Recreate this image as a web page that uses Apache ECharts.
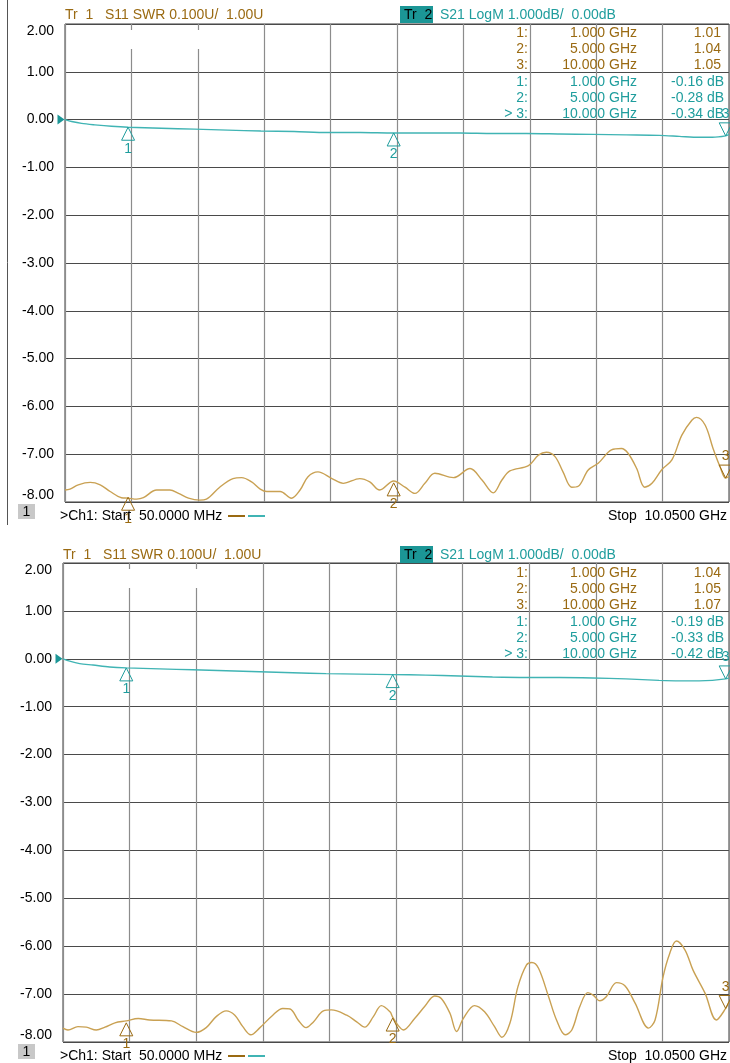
<!DOCTYPE html>
<html>
<head>
<meta charset="utf-8">
<script src="https://cdn.jsdelivr.net/npm/echarts@6/dist/echarts.min.js"></script>
<style>
html,body{margin:0;padding:0;background:#fff;}
#c{width:730px;height:1063px;}
</style>
</head>
<body>
<div id="c"></div>
<script>
// ---------- DATA ----------
// Top measurement: S11 SWR (U) and S21 LogM (dB) vs frequency (GHz)
const swrTopF = [0.05,0.125,0.25,0.43,0.58,0.73,0.90,1.00,1.13,1.23,1.43,1.63,1.76,1.91,2.08,2.18,2.38,2.58,2.71,2.86,2.99,3.09,3.29,3.46,3.59,3.71,3.86,4.07,4.24,4.49,4.64,4.79,5.00,5.17,5.32,5.47,5.62,5.90,6.15,6.33,6.50,6.63,6.75,7.03,7.18,7.30,7.43,7.55,7.68,7.78,7.93,8.08,8.28,8.43,8.53,8.66,8.78,8.89,9.04,9.19,9.34,9.49,9.56,9.69,9.81,9.92,10.00,10.05];
const swrTopV = [1.025,1.027,1.036,1.041,1.036,1.022,1.009,1.008,1.006,1.009,1.025,1.025,1.018,1.008,1.004,1.006,1.031,1.049,1.051,1.042,1.027,1.022,1.022,1.008,1.025,1.053,1.063,1.049,1.039,1.049,1.042,1.025,1.044,1.031,1.018,1.039,1.060,1.051,1.070,1.046,1.019,1.046,1.065,1.076,1.098,1.104,1.095,1.063,1.031,1.033,1.067,1.081,1.109,1.112,1.102,1.070,1.031,1.039,1.068,1.088,1.140,1.171,1.177,1.161,1.112,1.072,1.050,1.054];
const s21F = [0.05,0.15,0.3,0.5,0.75,1.0,1.5,2.0,2.5,3.0,3.5,4.0,4.5,5.0,5.5,6.0,6.5,7.0,7.5,8.0,8.5,9.0,9.3,9.6,9.8,10.0,10.05];
const s21TopV = [0.00,-0.04,-0.08,-0.11,-0.14,-0.16,-0.18,-0.20,-0.22,-0.24,-0.25,-0.27,-0.27,-0.28,-0.28,-0.28,-0.29,-0.29,-0.30,-0.31,-0.32,-0.33,-0.35,-0.37,-0.37,-0.34,-0.31];

// Bottom measurement
const swrBotF = [0.05,0.125,0.275,0.40,0.55,0.68,0.83,1.00,1.18,1.35,1.68,1.85,2.05,2.20,2.35,2.50,2.63,2.75,2.87,3.00,3.20,3.35,3.46,3.58,3.70,3.81,3.96,4.08,4.31,4.46,4.58,4.71,4.83,4.96,5.00,5.08,5.16,5.33,5.48,5.63,5.73,5.86,5.96,6.06,6.23,6.38,6.53,6.64,6.76,6.88,7.01,7.09,7.19,7.34,7.46,7.59,7.69,7.81,7.93,8.01,8.11,8.21,8.36,8.49,8.64,8.84,8.94,9.06,9.16,9.26,9.39,9.51,9.69,9.86,10.00,10.05];
const swrBotV = [1.029,1.025,1.032,1.031,1.025,1.031,1.040,1.044,1.049,1.046,1.044,1.032,1.020,1.030,1.053,1.065,1.056,1.032,1.015,1.029,1.056,1.070,1.069,1.046,1.030,1.042,1.065,1.067,1.056,1.042,1.031,1.053,1.076,1.063,1.052,1.035,1.025,1.049,1.074,1.096,1.091,1.060,1.022,1.049,1.076,1.063,1.032,1.010,1.039,1.115,1.161,1.166,1.154,1.095,1.046,1.015,1.025,1.074,1.103,1.098,1.086,1.095,1.124,1.117,1.081,1.029,1.046,1.136,1.185,1.211,1.192,1.150,1.102,1.046,1.070,1.084];
const s21BotV = [0.00,-0.05,-0.10,-0.13,-0.17,-0.19,-0.21,-0.23,-0.25,-0.27,-0.29,-0.31,-0.32,-0.33,-0.34,-0.36,-0.38,-0.39,-0.39,-0.40,-0.42,-0.45,-0.46,-0.46,-0.45,-0.42,-0.40];

// Marker readouts
const markerFreqs = [1.0, 5.0, 10.0];
const swrMarkTop = [1.01, 1.04, 1.05];
const s21MarkTop = [-0.16, -0.28, -0.34];
const swrMarkBot = [1.04, 1.05, 1.07];
const s21MarkBot = [-0.19, -0.33, -0.42];

// Axis settings
const yMin = -8, yMax = 2, yStep = 1;       // S21 dB scale (labels)
const swrMin = 1.0, swrMax = 2.0;           // SWR scale 0.1U/div
const startGHz = 0.05, stopGHz = 10.05;
const tr1Title = 'Tr  1   S11 SWR 0.100U/  1.00U';
const tr2Title = 'S21 LogM 1.000dB/  0.00dB';
const startText = '>Ch1: Start  50.0000 MHz';
const stopText = 'Stop  10.0500 GHz';

// ---------- STYLE ----------
const FONT = '"Liberation Sans", Arial, sans-serif';
const BROWN_T = '#9a6a12';
const BROWN_L = '#c9a153';
const TEAL_T = '#1f9d9d';
const TEAL_L = '#40b4b4';
const TEAL_BOX = '#1b9696';

const zip = (a, b) => a.map((v, i) => [v, b[i]]);

const panels = [
  {left: 65, top: 24, width: 664, height: 478, off: 0, swrF: swrTopF, swrV: swrTopV, s21V: s21TopV, swrM: swrMarkTop, s21M: s21MarkTop, border: true},
  {left: 63, top: 563, width: 666, height: 479, off: 540, swrF: swrBotF, swrV: swrBotV, s21V: s21BotV, swrM: swrMarkBot, s21M: s21MarkBot, border: false}
];

const grid = [], xAxis = [], yAxis = [], series = [], graphic = [];

const upTri = 'path://M5,0 L10,10 L0,10 Z';
const downTri = 'path://M0,0 L10,0 L5,10 Z';
const refArrow = 'path://M0,0 L10,5 L0,10 Z';

function markers(vals, txtColor) {
  return vals.map((v, i) => {
    const active = i === vals.length - 1;
    return {
      coord: [markerFreqs[i], v],
      symbol: active ? downTri : upTri,
      symbolSize: [13, 13],
      symbolOffset: [0, active ? -6.5 : 6.5],
      itemStyle: {color: 'rgba(0,0,0,0)', borderColor: txtColor, borderWidth: 1},
      label: {show: true, formatter: String(i + 1), position: active ? 'top' : 'bottom', distance: 1,
              color: txtColor, fontSize: 14, fontFamily: FONT}
    };
  });
}

panels.forEach((p, k) => {
  grid.push({left: p.left, top: p.top, width: p.width, height: p.height, show: true,
             borderColor: '#3c3c3c', borderWidth: 1, backgroundColor: '#fff'});
  // division axis (grid lines every 1 GHz from start)
  xAxis.push({gridIndex: k, type: 'value', min: 0, max: 10, interval: 1,
              axisLabel: {show: false}, axisTick: {show: false}, axisLine: {show: false},
              splitLine: {show: true, lineStyle: {color: '#8c8c8c', width: 1.2}}});
  // frequency axis
  xAxis.push({gridIndex: k, type: 'value', min: startGHz, max: stopGHz, show: false});
  yAxis.push({gridIndex: k, type: 'value', min: yMin, max: yMax, interval: yStep,
              axisLine: {show: false}, axisTick: {show: false},
              axisLabel: {formatter: v => v.toFixed(2), color: '#000', fontSize: 14, fontFamily: FONT, margin: 11,
                          showMinLabel: true, showMaxLabel: true,
                          verticalAlignMaxLabel: 'top', verticalAlignMinLabel: 'bottom'},
              splitLine: {show: true, lineStyle: {color: '#4a4a4a', width: 1}}});
  yAxis.push({gridIndex: k, type: 'value', min: swrMin, max: swrMax, show: false});

  series.push({
    type: 'line', xAxisIndex: 2 * k + 1, yAxisIndex: 2 * k + 1, data: zip(p.swrF, p.swrV),
    symbol: 'none', smooth: 0.35, lineStyle: {color: BROWN_L, width: 1.4}, z: 3,
    markPoint: {data: markers(p.swrM, BROWN_T), animation: false}
  });
  const s21Marks = markers(p.s21M, TEAL_T);
  s21Marks.push({coord: [startGHz, 0], symbol: refArrow, symbolSize: [7, 10], symbolOffset: [-4, 0],
                 itemStyle: {color: TEAL_BOX}, label: {show: false}});
  series.push({
    type: 'line', xAxisIndex: 2 * k + 1, yAxisIndex: 2 * k, data: zip(s21F, p.s21V),
    symbol: 'none', smooth: 0.3, lineStyle: {color: TEAL_L, width: 1.4}, z: 4,
    markPoint: {data: s21Marks, animation: false}
  });

  const o = p.off;
  const txt = (text, x, y, fill, align) => ({type: 'text', x: x, y: y, z: 100,
    style: {text: text, fill: fill, font: '14px ' + FONT, align: align || 'left', verticalAlign: 'middle'}});

  // header
  graphic.push(txt(tr1Title, p.left, 15 + o, BROWN_T));
  graphic.push({type: 'rect', z: 99, shape: {x: 400, y: 6 + o, width: 33, height: 17}, style: {fill: TEAL_BOX}});
  graphic.push(txt('Tr  2', 404, 15 + o, '#000'));
  graphic.push(txt(tr2Title, 440, 15 + o, TEAL_T));

  // marker table
  const rowsY = [33, 49, 65, 82, 98, 114];
  p.swrM.forEach((v, i) => {
    graphic.push(txt((i + 1) + ':', 528, rowsY[i] + o, BROWN_T, 'right'));
    graphic.push(txt(markerFreqs[i].toFixed(3) + ' GHz', 637, rowsY[i] + o, BROWN_T, 'right'));
    graphic.push(txt(v.toFixed(2), 721, rowsY[i] + o, BROWN_T, 'right'));
  });
  p.s21M.forEach((v, i) => {
    const pre = i === p.s21M.length - 1 ? '> ' : '';
    graphic.push(txt(pre + (i + 1) + ':', 528, rowsY[3 + i] + o, TEAL_T, 'right'));
    graphic.push(txt(markerFreqs[i].toFixed(3) + ' GHz', 637, rowsY[3 + i] + o, TEAL_T, 'right'));
    graphic.push(txt(v.toFixed(2) + ' dB', 724, rowsY[3 + i] + o, TEAL_T, 'right'));
  });

  // gaps in the first two vertical grid lines near the top
  graphic.push({type: 'rect', z: 50, shape: {x: p.left + 60, y: p.top + 6, width: 78, height: 19}, style: {fill: '#fff'}});

  // footer
  graphic.push({type: 'rect', z: 99, shape: {x: 18, y: 504 + o, width: 17, height: 15}, style: {fill: '#c8c8c8'}});
  graphic.push(txt('1', 26.5, 512 + o, '#000', 'center'));
  graphic.push(txt(startText, 60, 516 + o, '#000'));
  graphic.push({type: 'line', z: 100, shape: {x1: 228, y1: 516 + o, x2: 245, y2: 516 + o}, style: {stroke: BROWN_T, lineWidth: 2}});
  graphic.push({type: 'line', z: 100, shape: {x1: 248, y1: 516 + o, x2: 265, y2: 516 + o}, style: {stroke: TEAL_L, lineWidth: 2}});
  graphic.push(txt(stopText, 727, 516 + o, '#000', 'right'));

  if (p.border) {
    graphic.push({type: 'line', z: 100, shape: {x1: 7.5, y1: 0, x2: 7.5, y2: 525}, style: {stroke: '#555', lineWidth: 1}});
  }
});

const chart = echarts.init(document.getElementById('c'), null, {renderer: 'canvas'});
chart.setOption({
  animation: false,
  backgroundColor: '#fff',
  grid: grid, xAxis: xAxis, yAxis: yAxis, series: series, graphic: graphic
});
</script>
</body>
</html>
